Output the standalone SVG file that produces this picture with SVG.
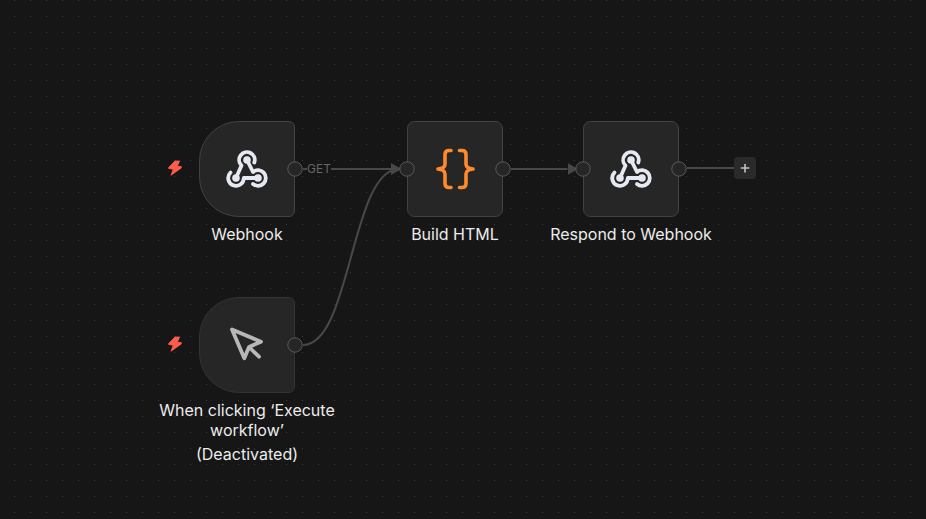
<svg xmlns="http://www.w3.org/2000/svg" width="926" height="519" viewBox="0 0 926 519">
<style>
.nb{fill:#262626;stroke:#424242;stroke-width:1}
.nd{fill:#262626;stroke:#333333;stroke-width:1}
.port{fill:#262626;stroke:#5a5a5a;stroke-width:1}
.edge{fill:none;stroke:#484848;stroke-width:2}
.lbl{font-family:Inter,"Liberation Sans",sans-serif;font-size:16px;fill:#ececec;text-anchor:middle}
.bolt{fill:#ff5c4d;stroke:#ff5c4d;stroke-width:0.8;stroke-linejoin:round}
.hook{fill:none;stroke:#e6e9f2;stroke-width:3.8;stroke-linecap:round;stroke-linejoin:round}
.dot{fill:#e6e9f2}
</style>
<defs>
<pattern id="grid" x="14" y="0" width="16" height="16" patternUnits="userSpaceOnUse"><rect x="0" y="0" width="1" height="1" fill="#3e3e3e"/></pattern>
<marker id="arrow" markerUnits="userSpaceOnUse" markerWidth="12" markerHeight="14" refX="0" refY="7" orient="auto"><path d="M0 1L10.500 7L0 13Z" fill="#484848"/></marker>
<g id="webhookIcon">
<circle class="dot" cx="0" cy="-9" r="3.800"/><circle class="dot" cx="-11" cy="9" r="3.800"/><circle class="dot" cx="11" cy="9" r="3.800"/>
<path class="hook" d="M-11 9L-5.500 -3.500A7.800 7.800 0 1 1 7.300 -6.500M0 -9L6 3A7.800 7.800 0 1 1 6 15M11 9H-3.200A7.800 7.800 0 1 1 -16.500 3.500"/>
</g>
<path id="bolt" d="M0 -7L4.700 -7L2.300 -2L6.300 -1.500L6.300 0L-4 7.200L-1.700 1.200L-6.300 0.500L-6.300 -0.500Z"/>
</defs>
<rect width="926" height="519" fill="#161616"/>
<rect width="926" height="519" fill="url(#grid)"/>
<g id="connectors">
<path class="edge" d="M303 169H307"/>
<path class="edge" d="M331 169H391" marker-end="url(#arrow)"/>
<path class="edge" d="M303 345C351 345 351 169 399 169"/>
<path class="edge" d="M511 169H567.500" marker-end="url(#arrow)"/>
<path class="edge" d="M687 168H734"/>
<text x="319" y="173" font-family="Inter,'Liberation Sans',sans-serif" font-size="12" fill="#676767" text-anchor="middle">GET</text>
</g>
<g id="node-webhook">
<path class="nb" d="M239 121.500H289A5.500 5.500 0 0 1 294.500 127V211A5.500 5.500 0 0 1 289 216.500H239A39.500 39.500 0 0 1 199.500 177V161A39.500 39.500 0 0 1 239 121.500Z"/>
<use href="#webhookIcon" x="247" y="169"/>
<circle class="port" cx="295" cy="169" r="7.200"/>
<use href="#bolt" x="175" y="168" class="bolt"/>
<text class="lbl" x="247" y="240">Webhook</text>
</g>
<g id="node-build-html">
<rect class="nb" x="407.500" y="121.500" width="95" height="95" rx="7"/>
<path d="M451 150.500H449C446.500 150.500 445 152 445 154.500V164C445 166.500 443 168.500 438 169C443 169.500 445 171.500 445 174V183.500C445 186 446.500 187.500 449 187.500H451M459.500 150.500H462C464.500 150.500 466 152 466 154.500V164C466 166.500 468 168.500 473 169C468 169.500 466 171.500 466 174V183.500C466 186 464.500 187.500 462 187.500H459.500" fill="none" stroke="#ff8a2b" stroke-width="3.600" stroke-linecap="round" stroke-linejoin="round"/>
<circle class="port" cx="407" cy="169" r="7.200"/>
<circle class="port" cx="503" cy="169" r="7.200"/>
<text class="lbl" x="455" y="240">Build HTML</text>
</g>
<g id="node-respond">
<rect class="nb" x="583.500" y="121.500" width="95" height="95" rx="7"/>
<use href="#webhookIcon" x="631" y="169"/>
<circle class="port" cx="583" cy="169" r="7.200"/>
<circle class="port" cx="679" cy="169" r="7.200"/>
<text class="lbl" x="631" y="240">Respond to Webhook</text>
</g>
<g id="node-add">
<rect x="734" y="157" width="22" height="22" rx="4" fill="#2a2a2a"/>
<path d="M745 164V172.500M740.700 168H749.300" stroke="#c4c4c4" stroke-width="1.600" fill="none"/>
</g>
<g id="node-manual">
<path class="nd" d="M239 297.500H289A5.500 5.500 0 0 1 294.500 303V387A5.500 5.500 0 0 1 289 392.500H239A39.500 39.500 0 0 1 199.500 353V337A39.500 39.500 0 0 1 239 297.500Z"/>
<path d="M232 329.500L261 341.700L249 347L244.300 358.300ZM249 347L259 356.700" fill="none" stroke="#b8b8b8" stroke-width="3.800" stroke-linecap="round" stroke-linejoin="round"/>
<circle class="port" cx="295" cy="345" r="7.200"/>
<use href="#bolt" x="175" y="344" class="bolt"/>
<text class="lbl" x="247" y="416">When clicking ‘Execute</text>
<text class="lbl" x="247" y="436">workflow’</text>
<text class="lbl" x="247" y="460">(Deactivated)</text>
</g>
</svg>
